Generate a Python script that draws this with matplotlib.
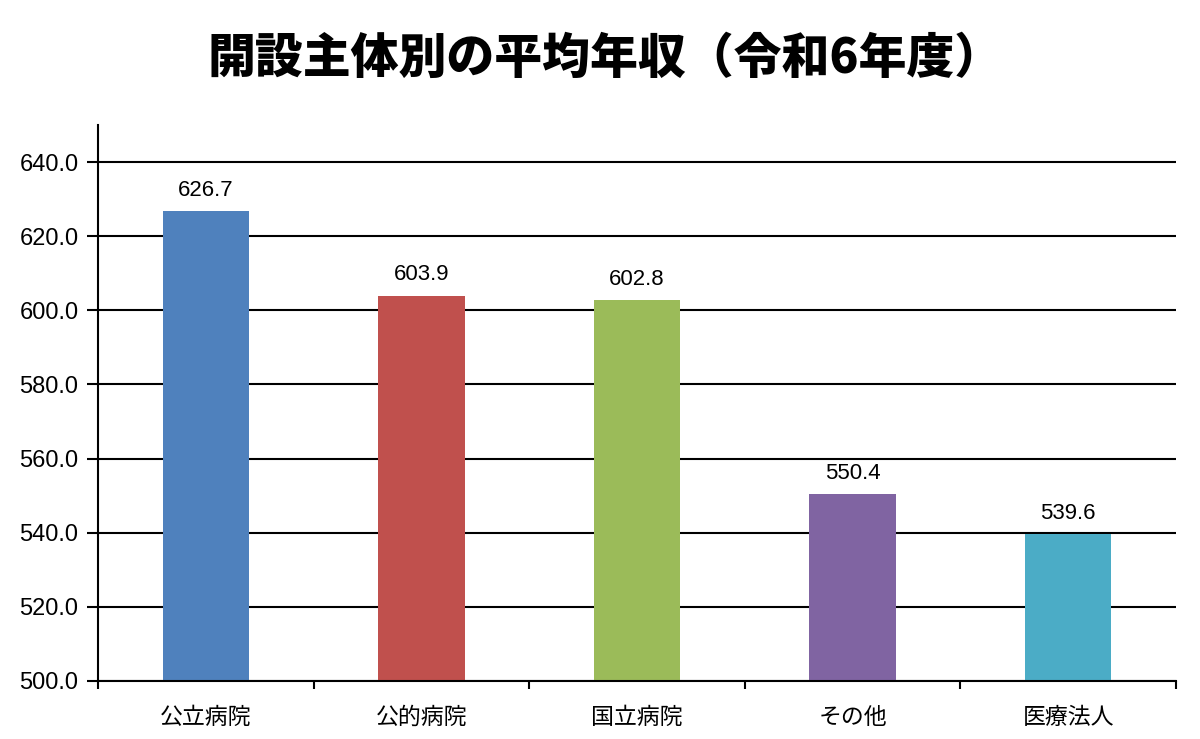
import numpy as np
import matplotlib.pyplot as plt

plt.rcParams['font.family'] = ['Liberation Sans', 'Noto Sans CJK JP', 'DejaVu Sans']

categories = ['公立病院', '公的病院', '国立病院', 'その他', '医療法人']
values = [626.7, 603.9, 602.8, 550.4, 539.6]
colors = ['#4F81BD', '#C0504D', '#9BBB59', '#8064A2', '#4BACC6']

fig = plt.figure(figsize=(12, 7.39), dpi=100)
ax = fig.add_axes([0.0817, 0.0785, 0.8983, 0.7524])

x = np.arange(len(categories))
bars = ax.bar(x, values, width=0.4, color=colors, zorder=3)

for xi, v in zip(x, values):
    ax.text(xi, v + 2.8, f'{v:.1f}', ha='center', va='bottom', fontsize=16, zorder=4)

ax.set_ylim(500, 650)
ax.set_xlim(-0.5, len(categories) - 0.5)
ax.set_yticks(np.arange(500, 641, 20))
ax.set_yticklabels([f'{t:.1f}' for t in np.arange(500, 641, 20)], fontsize=17)
ax.yaxis.grid(True, color='black', linewidth=1.5, zorder=1)
ax.tick_params(axis='y', length=8, width=1.5, direction='out', pad=6)

ax.set_xticks(x)
ax.set_xticklabels(categories, fontsize=16.5, family=['Noto Sans CJK JP'])
ax.tick_params(axis='x', which='major', length=0, pad=18)
ax.set_xticks(np.arange(-0.5, len(categories)), minor=True)
ax.tick_params(axis='x', which='minor', length=6, width=1.5, direction='out')

for s in ['top', 'right']:
    ax.spines[s].set_visible(False)
for s in ['left', 'bottom']:
    ax.spines[s].set_linewidth(1.5)
    ax.spines[s].set_zorder(5)

fig.text(0.504, 0.92, '開設主体別の平均年収（令和6年度）', ha='center', va='center',
         fontsize=34.5, fontweight='black', family=['Noto Sans CJK JP'])

fig.savefig('out.png', dpi=100)
